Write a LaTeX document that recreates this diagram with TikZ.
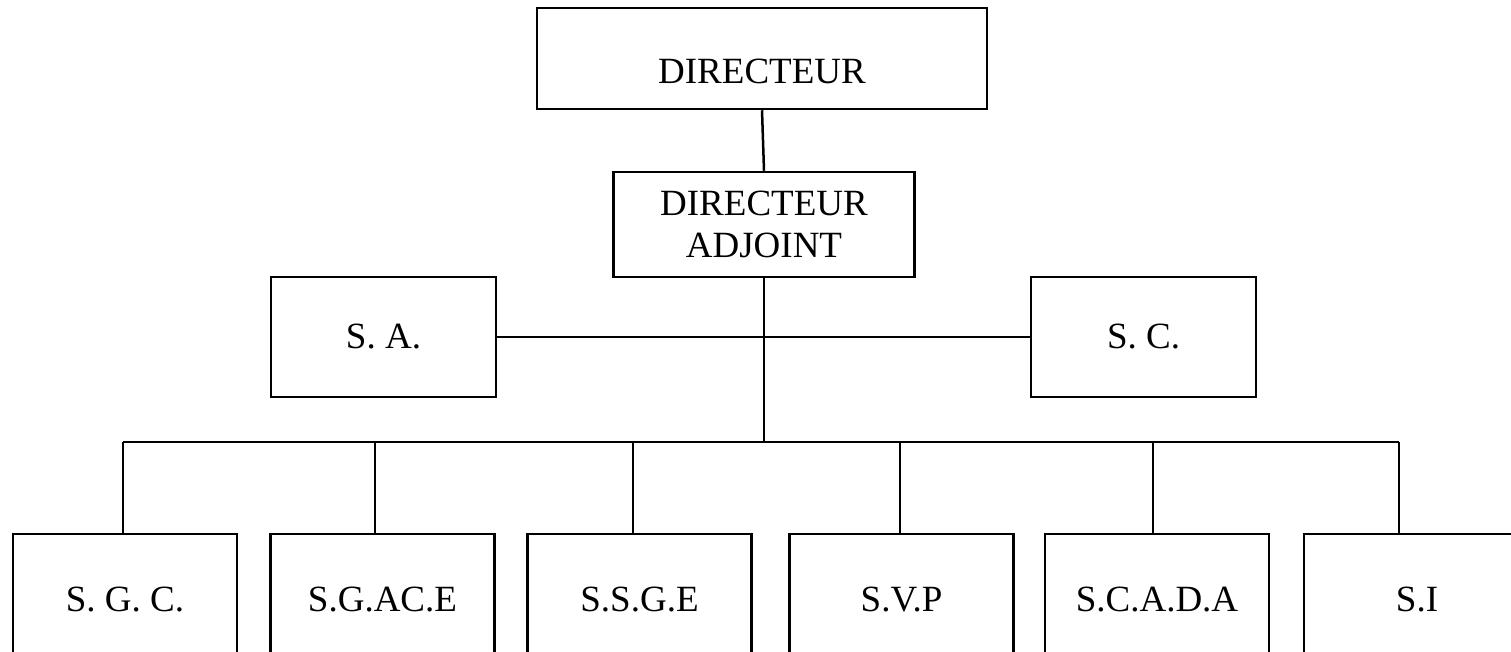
\documentclass[tikz,border=0pt]{standalone}
\usepackage{fontspec}
\setmainfont{Liberation Serif}
\begin{document}
\begin{tikzpicture}[x=1pt,y=-1pt,line width=2.5pt]
\tikzstyle{every node}+=[inner sep=0pt,font=\fontsize{37}{42}\selectfont]
\tikzstyle{box}=[draw,black,minimum width=224pt,minimum height=132pt]
\useasboundingbox (0,0) rectangle (1511,651);
\node [box,minimum width=450pt,minimum height=101pt,label={[yshift=-13pt]center:DIRECTEUR}] (dir) at (762,58.5) {};
\node [box,minimum width=301pt,minimum height=105pt,align=center] (adj) at (764,224.5) {DIRECTEUR\\ADJOINT};
\node [box,minimum width=225pt,minimum height=120pt] (sa) at (383.5,337) {S. A.};
\node [box,minimum width=225pt,minimum height=120pt] (sc) at (1143.5,337) {S. C.};
\node [box] (sgc) at (125,600) {S. G. C.};
\node [box] (sgace) at (382.5,600) {S.G.AC.E};
\node [box] (ssge) at (639.5,600) {S.S.G.E};
\node [box] (svp) at (901.5,600) {S.V.P};
\node [box] (scada) at (1157,600) {S.C.A.D.A};
\node [box,minimum width=226pt] (si) at (1417,600) {S.I};
\coordinate (bus) at (764,442);
\coordinate (busl) at (123,442);
\coordinate (busr) at (1399,442);
\draw (dir.south) -- (adj.north);
\draw (adj.south) -- (bus);
\draw (sa.east) -- (sc.west);
\draw (busl) -- (busr);
\foreach \x/\n in {123/sgc,375/sgace,633/ssge,900/svp,1153/scada,1399/si}
{
\coordinate (d\n) at (\x,442);
\draw (d\n) -- (d\n |- \n.north);
}
\end{tikzpicture}
\end{document}
